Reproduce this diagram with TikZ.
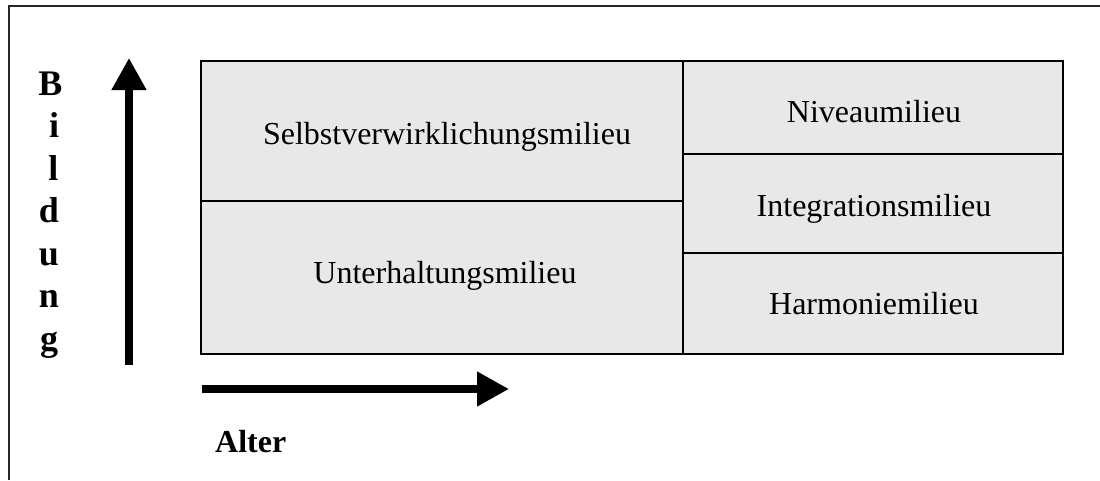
\documentclass[tikz,border=0pt]{standalone}
\usepackage{fontspec}
\setmainfont{Liberation Serif}
\usetikzlibrary{arrows.meta}
\definecolor{boxfill}{HTML}{E8E8E8}
\tikzset{
  cell/.style={draw=black, line width=1.5pt, fill=boxfill, rectangle, inner sep=0pt, anchor=north west},
  celltext/.style={anchor=base, inner sep=0pt, font=\fontsize{32}{38}\selectfont},
  axistext/.style={anchor=base, inner sep=0pt, font=\fontsize{32}{38}\selectfont\bfseries},
  lettertext/.style={anchor=base, inner sep=0pt, font=\fontsize{36}{42}\selectfont\bfseries},
  axisarrow/.style={line width=7.5pt, -{Triangle[length=32pt,width=33pt]}},
  frameline/.style={line width=1.5pt, draw=black!85}
}
\begin{document}
\begin{tikzpicture}[x=1pt,y=-1pt]
\useasboundingbox (0,0) rectangle (1100,480);
% outer frame (partly cut off)
\draw[frameline] (9,480) -- (9,6) -- (1100,6);
% boxes
\node[cell, minimum width=482pt, minimum height=140pt] (selbstbox) at (200,60) {};
\node[cell, minimum width=482pt, minimum height=153pt] (unterbox) at (200,200) {};
\node[cell, minimum width=380pt, minimum height=93pt] (niveaubox) at (682,60) {};
\node[cell, minimum width=380pt, minimum height=99pt] (integbox) at (682,153) {};
\node[cell, minimum width=380pt, minimum height=101pt] (harmbox) at (682,252) {};
% texts
\node[celltext] (selbst) at (447,144) {Selbstverwirklichungsmilieu};
\node[celltext] (unter) at (445,283) {Unterhaltungsmilieu};
\node[celltext] (niveau) at (874,122) {Niveaumilieu};
\node[celltext] (integ) at (874,216) {Integrationsmilieu};
\node[celltext] (harm) at (874,314) {Harmoniemilieu};
% Bildung letters
\node[lettertext] (b1) at (50.5,95) {B};
\node[lettertext] (b2) at (54,137.5) {i};
\node[lettertext] (b3) at (53.5,180) {l};
\node[lettertext] (b4) at (49,222.5) {d};
\node[lettertext] (b5) at (49,265) {u};
\node[lettertext] (b6) at (49,307.5) {n};
\node[lettertext] (b7) at (49,350) {g};
\node[axistext, anchor=base west] (alter) at (215,452) {Alter};
% arrows
\coordinate (vstart) at (129,365);
\coordinate (vend) at (129,58);
\coordinate (hstart) at (202,389);
\coordinate (hend) at (509,389);
\draw[axisarrow] (vstart) -- (vend);
\draw[axisarrow] (hstart) -- (hend);
\end{tikzpicture}
\end{document}
